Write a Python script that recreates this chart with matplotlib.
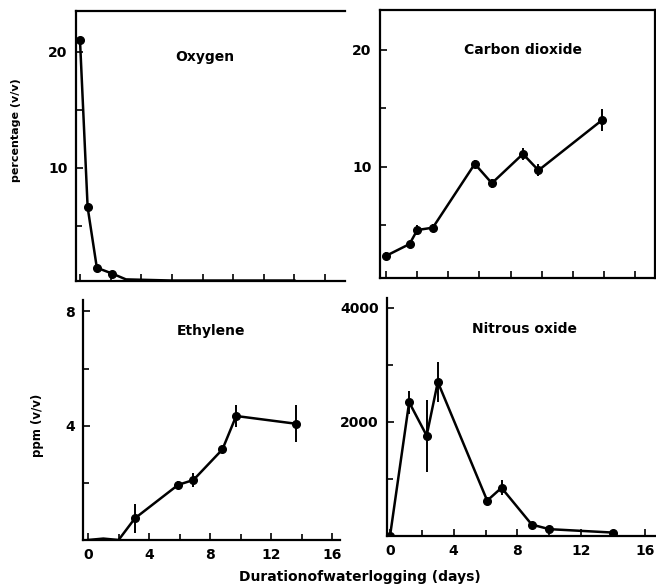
import matplotlib
matplotlib.use("Agg")
import matplotlib.pyplot as plt
from matplotlib.ticker import MultipleLocator

plt.rcParams['font.family'] = ['DejaVu Sans']
plt.rcParams['font.weight'] = 'bold'

# ---- data ----
o2_days = [0, 0.5, 1.1, 2.1, 3, 6, 7, 9, 10, 14]
o2_vals = [21.0, 6.6, 1.4, 0.9, 0.4, 0.3, 0.3, 0.3, 0.3, 0.3]

co2_days = [0, 1.5, 2.0, 3.0, 5.7, 6.8, 8.8, 9.8, 13.9]
co2_vals = [2.4, 3.4, 4.6, 4.8, 10.25, 8.6, 11.1, 9.7, 14.0]
co2_err = [0.3, 0.3, 0.4, 0.3, 0.3, 0.4, 0.5, 0.5, 0.9]

eth_days = [0, 1, 2, 3.07, 5.9, 6.9, 8.8, 9.7, 13.6]
eth_vals = [0.0, 0.05, 0.0, 0.76, 1.93, 2.1, 3.17, 4.34, 4.07]
eth_err = [0, 0, 0, 0.5, 0.12, 0.25, 0.1, 0.4, 0.65]

n2o_days = [0, 1.2, 2.3, 3.0, 6.1, 7.0, 8.9, 10, 14]
n2o_vals = [0, 2345, 1760, 2700, 620, 845, 200, 120, 60]
n2o_err = [0, 200, 630, 350, 60, 130, 40, 0, 0]

W, H = 656, 587
fig = plt.figure(figsize=(W / 100, H / 100), dpi=100)
fig.patch.set_facecolor('white')


def make_ax(l, r, t, b):
    return fig.add_axes([l / W, 1 - b / H, (r - l) / W, (b - t) / H])


def style(ax, spines):
    for s in ['left', 'right', 'top', 'bottom']:
        ax.spines[s].set_visible(s in spines)
        ax.spines[s].set_linewidth(1.6)
    ax.tick_params(which='both', direction='in', width=1.2, labelsize=10, pad=6)
    ax.tick_params(which='major', length=5)
    ax.tick_params(which='minor', length=4)
    for lab in ax.get_xticklabels() + ax.get_yticklabels():
        lab.set_fontweight('bold')


lw = 1.8
ms = 5.5

# Oxygen
ax1 = make_ax(76, 345, 11, 281)
ax1.plot(o2_days, o2_vals, color='black', lw=lw, marker='o', ms=ms, markevery=[0, 1, 2, 3])
ax1.set_xlim(-0.26, 17.3)
ax1.set_ylim(0.26, 23.5)
ax1.set_yticks([10, 20])
ax1.yaxis.set_minor_locator(MultipleLocator(5))
ax1.xaxis.set_major_locator(MultipleLocator(2))
ax1.set_xticklabels([])
style(ax1, ['left', 'bottom', 'top'])
ax1.text(0.48, 0.83, 'Oxygen', transform=ax1.transAxes, ha='center', va='center',
         fontsize=10, fontweight='bold')

# Carbon dioxide
ax2 = make_ax(380, 655, 10, 278)
ax2.errorbar(co2_days, co2_vals, yerr=co2_err, color='black', lw=lw, marker='o', ms=ms,
             elinewidth=1.4, capsize=0)
ax2.set_xlim(-0.4, 17.3)
ax2.set_ylim(0.5, 23.4)
ax2.set_yticks([10, 20])
ax2.yaxis.set_minor_locator(MultipleLocator(5))
ax2.xaxis.set_major_locator(MultipleLocator(2))
ax2.set_xticklabels([])
style(ax2, ['left', 'bottom', 'top', 'right'])
ax2.text(0.52, 0.85, 'Carbon dioxide', transform=ax2.transAxes, ha='center', va='center',
         fontsize=10, fontweight='bold')

# Ethylene
ax3 = make_ax(83, 340, 300, 540)
ax3.errorbar(eth_days, eth_vals, yerr=eth_err, color='black', lw=lw, marker='o', ms=ms,
             elinewidth=1.4, capsize=0, markevery=[3, 4, 5, 6, 7, 8])
ax3.set_xlim(-0.33, 16.5)
ax3.set_ylim(0, 8.4)
ax3.set_yticks([4, 8])
ax3.yaxis.set_minor_locator(MultipleLocator(2))
ax3.set_xticks([0, 4, 8, 12, 16])
ax3.xaxis.set_minor_locator(MultipleLocator(2))
style(ax3, ['left', 'bottom'])
ax3.text(0.5, 0.87, 'Ethylene', transform=ax3.transAxes, ha='center', va='center',
         fontsize=10, fontweight='bold')

# Nitrous oxide
ax4 = make_ax(387, 656, 298, 536)
ax4.errorbar(n2o_days, n2o_vals, yerr=n2o_err, color='black', lw=lw, marker='o', ms=ms,
             elinewidth=1.4, capsize=0)
ax4.set_xlim(-0.19, 16.7)
ax4.set_ylim(0, 4172)
ax4.set_yticks([2000, 4000])
ax4.yaxis.set_minor_locator(MultipleLocator(1000))
ax4.set_xticks([0, 4, 8, 12, 16])
ax4.xaxis.set_minor_locator(MultipleLocator(2))
style(ax4, ['left', 'bottom'])
ax4.text(0.51, 0.87, 'Nitrous oxide', transform=ax4.transAxes, ha='center', va='center',
         fontsize=10, fontweight='bold')

# axis labels
fig.text(16 / W, 1 - 130 / H, 'percentage (v/v)', rotation=90, ha='center', va='center',
         fontsize=8, fontweight='bold')
fig.text(37 / W, 1 - 425 / H, 'ppm (v/v)', rotation=90, ha='center', va='center',
         fontsize=8.5, fontweight='bold')
fig.text(360 / W, 1 - 577 / H, 'Durationofwaterlogging (days)', ha='center', va='center',
         fontsize=10, fontweight='bold')

fig.savefig('out.png', dpi=100, facecolor='white')
